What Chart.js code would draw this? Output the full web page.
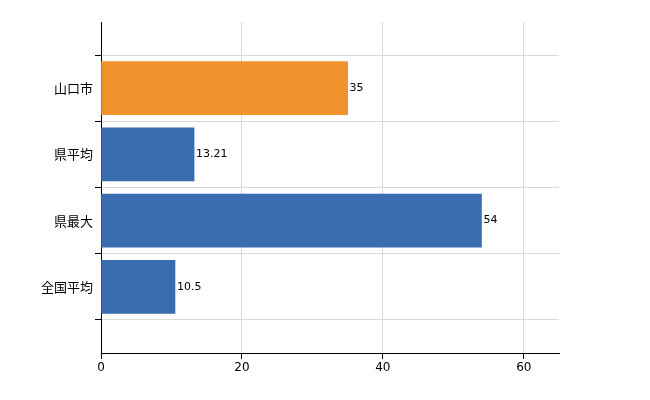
<!DOCTYPE html>
<html><head><meta charset="utf-8">
<script src="https://cdn.jsdelivr.net/npm/chart.js@4"></script>
<style>body{margin:0;background:#fff}#w{width:650px;height:400px}</style>
</head><body><div id="w"><canvas id="c" width="650" height="400"></canvas></div>
<script>
const categories = ['', '山口市', '県平均', '県最大', '全国平均', ''];
const values = [null, 35, 13.21, 54, 10.5, null];
const valueLabels = ['', '35', '13.21', '54', '10.5', ''];
const barColors = ['#3a6db0', '#f0922e', '#3a6db0', '#3a6db0', '#3a6db0', '#3a6db0'];
const xTicks = [0, 20, 40, 60];

const labelPlugin = {
  id: 'vl',
  afterDatasetsDraw(chart) {
    const ctx = chart.ctx;
    const meta = chart.getDatasetMeta(0);
    ctx.save();
    ctx.font = '11px "DejaVu Sans", Arial';
    ctx.fillStyle = '#000';
    ctx.textBaseline = 'middle';
    meta.data.forEach((el, i) => {
      if (values[i] == null) return;
      ctx.fillText(valueLabels[i], el.x + 2, el.y);
    });
    ctx.restore();
  }
};

new Chart(document.getElementById('c'), {
  type: 'bar',
  data: { labels: categories, datasets: [{ data: values, backgroundColor: barColors, barThickness: 53 }] },
  options: {
    indexAxis: 'y', responsive: false, animation: false,
    layout: { padding: { left: 0, right: 91, top: 22, bottom: 0 } },
    plugins: { legend: { display: false }, tooltip: { enabled: false } },
    scales: {
      x: {
        min: 0, max: 65,
        afterBuildTicks(s) { s.ticks = xTicks.map(v => ({ value: v })); },
        afterFit(s) { s.height = 47; },
        grid: { color: '#d8d8d8', tickColor: '#000', tickLength: 6 },
        border: { color: '#000' },
        ticks: { color: '#000', font: { size: 12, family: 'DejaVu Sans' }, padding: 2 }
      },
      y: {
        offset: false,
        afterFit(s) { s.width = 101; },
        grid: { color: '#d8d8d8', tickColor: '#000', tickLength: 6 },
        border: { color: '#000' },
        ticks: { color: '#000', font: { size: 13, family: 'Noto Sans CJK JP' }, padding: 2 }
      }
    }
  },
  plugins: [labelPlugin]
});
</script></body></html>
